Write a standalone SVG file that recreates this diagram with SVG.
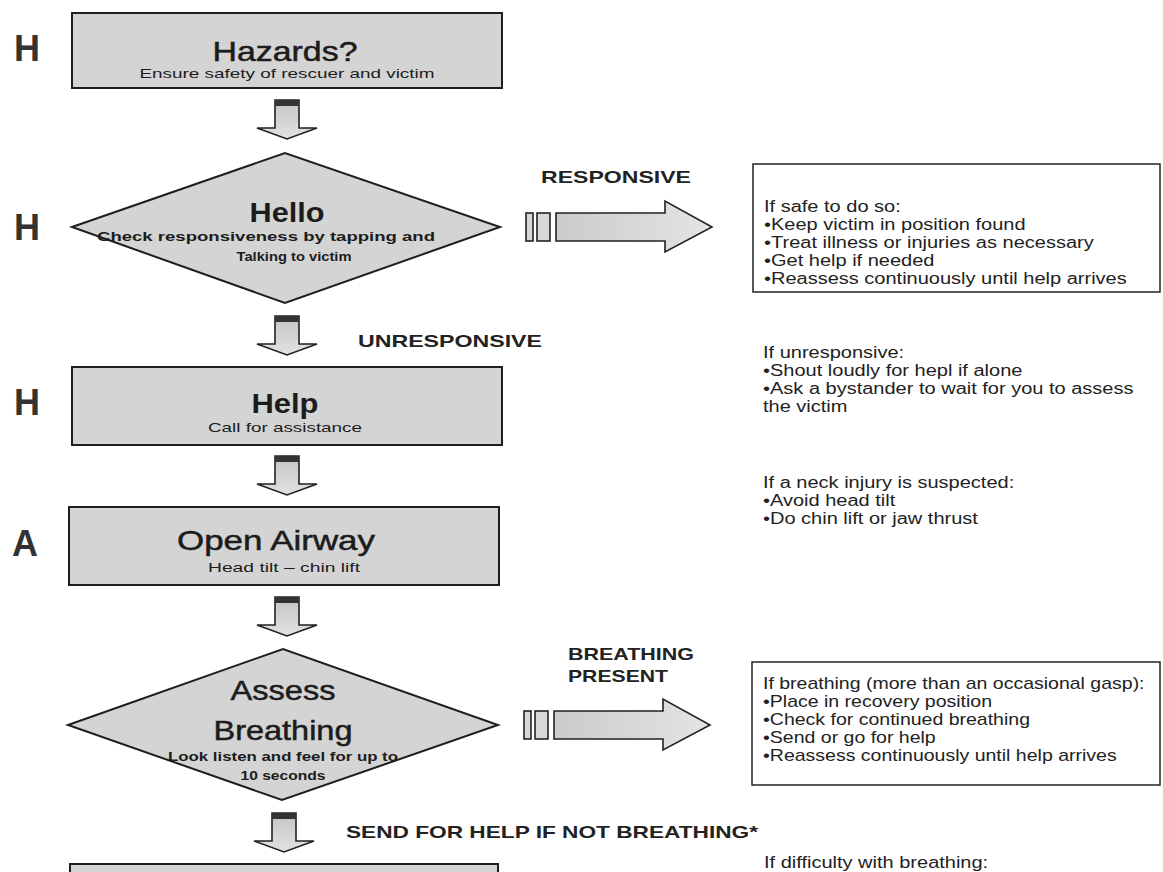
<svg xmlns="http://www.w3.org/2000/svg" width="1163" height="872" viewBox="0 0 1163 872">
<defs>
<linearGradient id="gShaft" x1="0" y1="0" x2="0" y2="1">
<stop offset="0" stop-color="#c4c4c4"/><stop offset="1" stop-color="#e2e2e2"/>
</linearGradient>
<linearGradient id="gRight" x1="0" y1="0" x2="1" y2="0">
<stop offset="0" stop-color="#cbcbcb"/><stop offset="1" stop-color="#e4e4e4"/>
</linearGradient>
<g id="downArrow">
<polygon points="-12,0 12,0 12,28 30,28 0,39 -30,28 -12,28" fill="url(#gShaft)" stroke="#222" stroke-width="1.6" stroke-linejoin="miter"/>
<rect x="-12" y="0" width="24" height="6" fill="#333"/>
</g>
<g id="rightArrow">
<rect x="0" y="0" width="7" height="28" fill="#d8d8d8" stroke="#222" stroke-width="1.6"/>
<rect x="11" y="0" width="13" height="28" fill="#d8d8d8" stroke="#222" stroke-width="1.6"/>
<polygon points="30,0 139,0 139,-12 186,14 139,39 139,28 30,28" fill="url(#gRight)" stroke="#222" stroke-width="1.6"/>
</g>
</defs>
<style>
.box{fill:#d4d4d4;stroke:#1e1e1e;stroke-width:2}
.note{fill:#ffffff;stroke:#222;stroke-width:1.5}
text{font-family:"Liberation Sans",Arial,sans-serif;fill:#1c1c1c}
.letter{font-size:36px;font-weight:bold;fill:#333}
.title{font-size:28px;text-anchor:middle;stroke:#1c1c1c;stroke-width:0.5}
.bt{font-weight:bold;stroke:none}
.sub{font-size:13.5px;text-anchor:middle}
.subb{font-size:13px;font-weight:bold;text-anchor:middle}
.lbl{font-size:17px;font-weight:bold;fill:#222}
.nt{font-size:16px;fill:#222}
</style>
<rect x="0" y="0" width="1163" height="872" fill="#ffffff"/>

<g id="node-hazards">
<text class="letter" x="14" y="61">H</text>
<rect class="box" x="72" y="13" width="430" height="75"/>
<text class="title" x="285" y="61" textLength="145" lengthAdjust="spacingAndGlyphs">Hazards?</text>
<text class="sub" x="287" y="78" textLength="295" lengthAdjust="spacingAndGlyphs">Ensure safety of rescuer and victim</text>
</g>

<g id="node-hello">
<text class="letter" x="14" y="240">H</text>
<polygon class="box" points="72,227 285,153 500,227 285,303"/>
<text class="title bt" x="287" y="222" textLength="75" lengthAdjust="spacingAndGlyphs">Hello</text>
<text class="subb" x="266" y="241" textLength="338" lengthAdjust="spacingAndGlyphs">Check responsiveness by tapping and</text>
<text class="subb" x="294" y="261" textLength="115" lengthAdjust="spacingAndGlyphs">Talking to victim</text>
</g>

<g id="node-help">
<text class="letter" x="14" y="415">H</text>
<rect class="box" x="72" y="367" width="430" height="78"/>
<text class="title bt" x="285" y="413" textLength="67" lengthAdjust="spacingAndGlyphs">Help</text>
<text class="sub" x="285" y="432" textLength="154" lengthAdjust="spacingAndGlyphs">Call for assistance</text>
</g>

<g id="node-airway">
<text class="letter" x="12" y="556">A</text>
<rect class="box" x="69" y="507" width="430" height="78"/>
<text class="title" x="276" y="550" textLength="198" lengthAdjust="spacingAndGlyphs">Open Airway</text>
<text class="sub" x="284" y="572" textLength="152" lengthAdjust="spacingAndGlyphs">Head tilt – chin lift</text>
</g>

<g id="node-breathing">
<polygon class="box" points="68,725 283,649 498,725 282,800"/>
<text class="title" x="283" y="700" textLength="105" lengthAdjust="spacingAndGlyphs">Assess</text>
<text class="title" x="283" y="740" textLength="139" lengthAdjust="spacingAndGlyphs">Breathing</text>
<text class="subb" x="283" y="761" textLength="230" lengthAdjust="spacingAndGlyphs">Look listen and feel for up to</text>
<text class="subb" x="283" y="780" textLength="85" lengthAdjust="spacingAndGlyphs">10 seconds</text>
</g>

<g id="node-next">
<rect class="box" x="70" y="864" width="428" height="30"/>
</g>

<g id="note-responsive">
<rect class="note" x="753" y="164" width="407" height="128"/>
<g transform="translate(764 0) scale(1.25 1)">
<text class="nt" x="0" y="212">If safe to do so:</text>
<text class="nt" x="0" y="230">•Keep victim in position found</text>
<text class="nt" x="0" y="248">•Treat illness or injuries as necessary</text>
<text class="nt" x="0" y="266">•Get help if needed</text>
<text class="nt" x="0" y="284">•Reassess continuously until help arrives</text>
</g>
</g>

<g id="note-unresponsive">
<g transform="translate(763 0) scale(1.25 1)">
<text class="nt" x="0" y="358">If unresponsive:</text>
<text class="nt" x="0" y="376">•Shout loudly for hepl if alone</text>
<text class="nt" x="0" y="394">•Ask a bystander to wait for you to assess</text>
<text class="nt" x="0" y="412">the victim</text>
</g>
</g>

<g id="note-neck">
<g transform="translate(763 0) scale(1.25 1)">
<text class="nt" x="0" y="488">If a neck injury is suspected:</text>
<text class="nt" x="0" y="506">•Avoid head tilt</text>
<text class="nt" x="0" y="524">•Do chin lift or jaw thrust</text>
</g>
</g>

<g id="note-breathing">
<rect class="note" x="752" y="662" width="408" height="123"/>
<g transform="translate(763 0) scale(1.22 1)">
<text class="nt" x="0" y="689">If breathing (more than an occasional gasp):</text>
<text class="nt" x="0" y="707">•Place in recovery position</text>
<text class="nt" x="0" y="725">•Check for continued breathing</text>
<text class="nt" x="0" y="743">•Send or go for help</text>
<text class="nt" x="0" y="761">•Reassess continuously until help arrives</text>
</g>
</g>

<g id="note-difficulty">
<g transform="translate(764 0) scale(1.25 1)">
<text class="nt" x="0" y="868">If difficulty with breathing:</text>
</g>
</g>

<g id="connectors">
<use href="#downArrow" x="287" y="100"/>
<use href="#downArrow" x="287" y="316"/>
<use href="#downArrow" x="287" y="456"/>
<use href="#downArrow" x="287" y="597"/>
<use href="#downArrow" x="284" y="813"/>
<use href="#rightArrow" x="526" y="213"/>
<use href="#rightArrow" x="524" y="711"/>
<text class="lbl" x="541" y="183" textLength="150" lengthAdjust="spacingAndGlyphs">RESPONSIVE</text>
<text class="lbl" x="358" y="347" textLength="184" lengthAdjust="spacingAndGlyphs">UNRESPONSIVE</text>
<text class="lbl" x="568" y="660" textLength="126" lengthAdjust="spacingAndGlyphs">BREATHING</text>
<text class="lbl" x="568" y="682" textLength="100" lengthAdjust="spacingAndGlyphs">PRESENT</text>
<text class="lbl" x="346" y="838" textLength="412" lengthAdjust="spacingAndGlyphs">SEND FOR HELP IF NOT BREATHING*</text>
</g>
</svg>
